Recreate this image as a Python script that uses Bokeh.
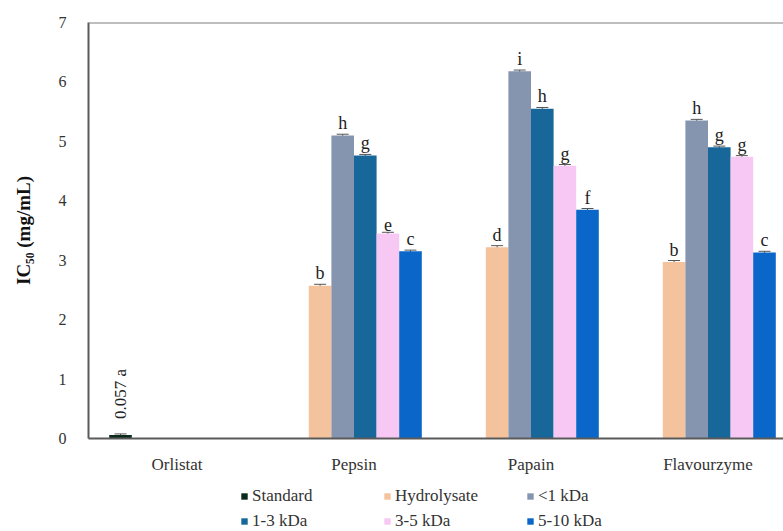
from bokeh.plotting import figure
from bokeh.layouts import column
from bokeh.models import (ColumnDataSource, Range1d, FixedTicker, Legend, LegendItem,
                          Span, Whisker, LabelSet)
from bokeh.core.properties import value
from bokeh.embed import file_html
from bokeh.resources import INLINE

categories = ["Orlistat", "Pepsin", "Papain", "Flavourzyme"]
series = ["Standard", "Hydrolysate", "<1 kDa", "1-3 kDa", "3-5 kDa", "5-10 kDa"]
colors = ["#0b2a1c", "#f5c29e", "#8595b0", "#17679a", "#f8c8f5", "#0a66c8"]

# values per series, one per category (None = no bar)
standard = [0.057, None, None, None]
hydrolysate = [None, 2.57, 3.22, 2.97]
lt1 = [None, 5.10, 6.18, 5.35]
k1_3 = [None, 4.76, 5.55, 4.90]
k3_5 = [None, 3.45, 4.59, 4.74]
k5_10 = [None, 3.15, 3.85, 3.13]
errors = [0.02, 0.025, 0.02, 0.02, 0.02, 0.02]

letters_standard = ["0.057 a", None, None, None]
letters_hydro = [None, "b", "d", "b"]
letters_lt1 = [None, "h", "i", "h"]
letters_13 = [None, "g", "h", "g"]
letters_35 = [None, "e", "g", "g"]
letters_510 = [None, "c", "f", "c"]

all_vals = [standard, hydrolysate, lt1, k1_3, k3_5, k5_10]
all_letters = [letters_standard, letters_hydro, letters_lt1, letters_13, letters_35, letters_510]

W, H = 783, 531
LEG_H = 51
left, top = 88, 22
PH = H - LEG_H
bottom = PH - 438
cat_px = 177.0
frame_w = W - left

p = figure(width=W, height=PH, output_backend="svg", toolbar_location=None,
           x_range=Range1d(0, frame_w / cat_px), y_range=Range1d(0, 7),
           min_border_left=left, min_border_right=0, min_border_top=top,
           min_border_bottom=bottom)
p.outline_line_color = None
p.xgrid.visible = False
p.ygrid.visible = False
p.background_fill_color = "white"
p.border_fill_color = "white"

nser = len(series)
bar_w = 22.6 / cat_px
gap = (1 - nser * bar_w) / 2

font = "Liberation Serif"
for i, (name, vals, lets) in enumerate(zip(series, all_vals, all_letters)):
    xs, tops, labs, errs = [], [], [], []
    for c, v in enumerate(vals):
        if v is None:
            continue
        xs.append(c + gap + (i + 0.5) * bar_w)
        tops.append(v)
        labs.append(lets[c])
        errs.append(errors[i])
    src = ColumnDataSource(dict(x=xs, top=tops, lab=labs,
                                up=[t + e for t, e in zip(tops, errs)],
                                lo=[t - e for t, e in zip(tops, errs)]))
    p.vbar(x="x", top="top", width=bar_w, bottom=0, source=src,
           fill_color=colors[i], line_color=None)
    w = Whisker(base="x", upper="up", lower="lo", source=src,
                line_color="#555555", line_width=1)
    w.upper_head.size = 12
    w.lower_head.size = 12
    w.upper_head.line_color = "#555555"
    w.lower_head.line_color = "#555555"
    p.add_layout(w)
    if i == 0:
        lab = LabelSet(x="x", y="top", text="lab", source=src, angle=1.5708,
                       x_offset=0, y_offset=16, text_font=value(font),
                       text_font_size="17px", text_color="#222222",
                       text_align="left", text_baseline="middle")
    else:
        lab = LabelSet(x="x", y="up", text="lab", source=src, y_offset=1,
                       text_font=value(font), text_font_size="18px",
                       text_color="#222222", text_align="center",
                       text_baseline="bottom")
    p.add_layout(lab)

# top border of the chart frame
p.add_layout(Span(location=7, dimension="width", line_color="#7f7f7f", line_width=2))

# axes
p.xaxis.ticker = FixedTicker(ticks=[c + 0.5 for c in range(len(categories))])
p.xaxis.major_label_overrides = {c + 0.5: n for c, n in enumerate(categories)}
p.xaxis.major_tick_line_color = None
p.xaxis.minor_tick_line_color = None
p.xaxis.axis_line_color = "#5a5a5a"
p.xaxis.axis_line_width = 2
p.xaxis.major_label_text_font = font
p.xaxis.major_label_text_font_size = "17px"
p.xaxis.major_label_text_color = "#333333"
p.xaxis.major_label_standoff = 10

p.yaxis.ticker = FixedTicker(ticks=list(range(0, 8)))
p.yaxis.major_tick_line_color = None
p.yaxis.minor_tick_line_color = None
p.yaxis.axis_line_color = "#5a5a5a"
p.yaxis.axis_line_width = 2
p.yaxis.major_label_text_font = font
p.yaxis.major_label_text_font_size = "16px"
p.yaxis.major_label_text_color = "#333333"
p.yaxis.major_label_standoff = 16
p.yaxis.axis_label = "IC₅₀ (mg/mL)"
p.yaxis.axis_label_text_font = font
p.yaxis.axis_label_text_font_style = "bold"
p.yaxis.axis_label_text_font_size = "19px"
p.yaxis.axis_label_text_color = "#111111"
p.yaxis.axis_label_standoff = 22

# legend in its own strip below the chart (its frame is aligned with the chart's)
lf = figure(width=W, height=LEG_H, output_backend="svg", toolbar_location=None,
            x_range=Range1d(0, 1), y_range=Range1d(0, 1),
            x_axis_location=None, y_axis_location=None,
            min_border=0, min_border_left=0, min_border_right=0,
            min_border_top=0, min_border_bottom=0)
lf.grid.visible = False
lf.outline_line_color = None
lf.border_fill_color = "white"
legend_items = {}
for s, col in zip(series, colors):
    # off-screen bar: only its legend swatch is seen
    rr = lf.vbar(x=[5], top=[5], bottom=4, width=1, fill_color=col, line_color=None)
    legend_items[s] = LegendItem(label=s, renderers=[rr])
# the legend fills column by column: order the items so rows read left to right
ncols = 3
nrows = (len(series) + ncols - 1) // ncols
order = [series[r * ncols + c] for c in range(ncols) for r in range(nrows)]
legend = Legend(items=[legend_items[s] for s in order], ncols=ncols, location=(152, 0),
                glyph_width=8, glyph_height=8,
                label_standoff=4, label_width=126, label_height=17,
                spacing=5, padding=0, margin=0,
                label_text_font=font, label_text_font_size="17px",
                label_text_color="#333333", border_line_color=None,
                background_fill_alpha=0)
lf.add_layout(legend, "center")

open("out.html", "w").write(file_html(column(p, lf, spacing=0), INLINE))
